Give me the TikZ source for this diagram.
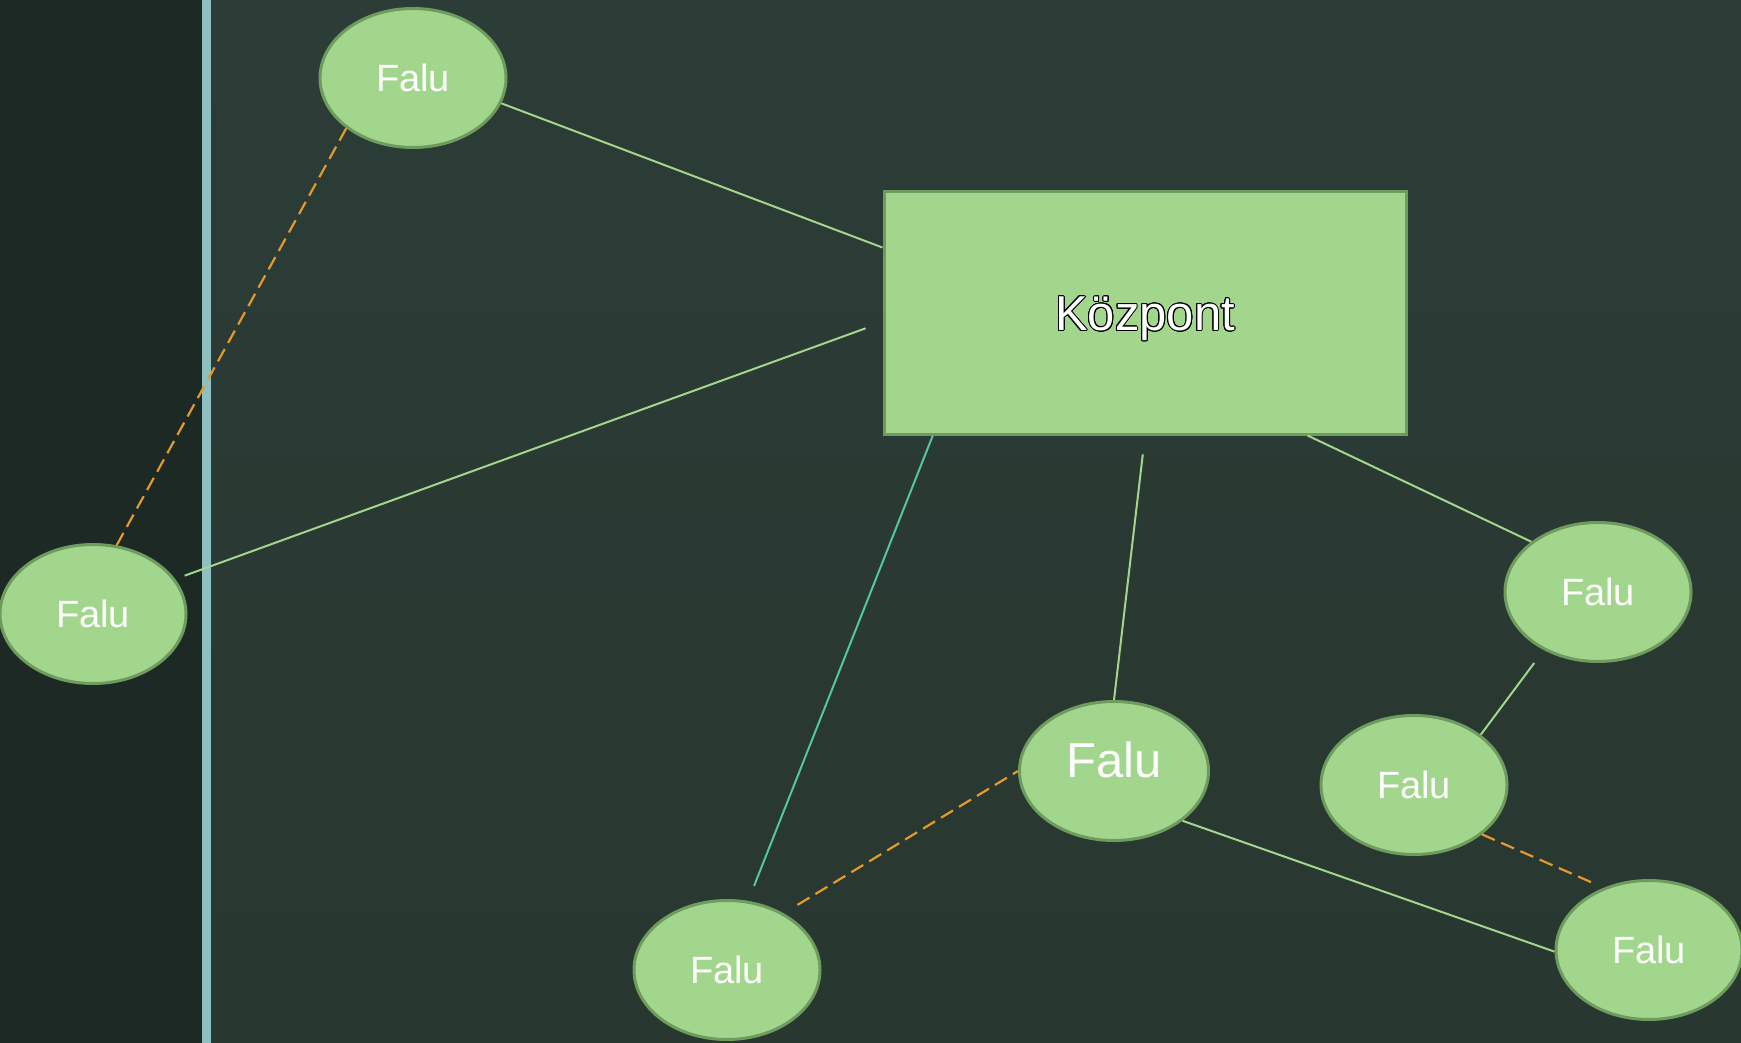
\documentclass[tikz,border=0pt]{standalone}
\usepackage{fontspec}
\setmainfont{Liberation Sans}
\usepackage{contour}
\contourlength{0.5pt}
\usetikzlibrary{shapes.geometric, positioning}
\definecolor{sfondo}{HTML}{2C3C37}
\definecolor{sfondobasso}{HTML}{28372F}
\definecolor{fascia}{HTML}{1D2925}
\definecolor{barra}{HTML}{8EBFC1}
\definecolor{verde}{HTML}{A2D68C}
\definecolor{bordo}{HTML}{6E9C5E}
\definecolor{acqua}{HTML}{52C99A}
\definecolor{arancio}{HTML}{E39A2D}

\begin{document}
\begin{tikzpicture}[x = 0.5pt, y = -0.5pt,
    falu/.style = {ellipse, draw = bordo, line width = 1.5pt, fill = verde,
        minimum width = 93pt, minimum height = 69.5pt, inner sep = 0pt,
        text = white, font = \fontsize{19}{19}\selectfont},
    kozpont/.style = {rectangle, draw = bordo, line width = 1.5pt, fill = verde,
        minimum width = 261pt, minimum height = 121pt, inner sep = 0pt,
        text height = 17.5pt, text depth = 0pt,
        font = \fontsize{24.5}{24.5}\selectfont},
    linea/.style = {draw = verde, line width = 1pt},
    tratteggio/.style = {draw = arancio, line width = 1.1pt, dash pattern = on 7pt off 3.5pt}]
    % Sfondo
    \useasboundingbox (0,0) rectangle (1741,1043);
    \fill[fascia] (0,0) rectangle (202,1043);
    \shade[top color = sfondo, bottom color = sfondobasso] (211,0) rectangle (1741,1043);
    \fill[barra] (202,0) rectangle (211,1043);
    % Nodi
    \node[kozpont] (centro) at (1145,313) {\contour{black}{\textcolor{white}{Központ}}};
    \node[falu] (f1) at (413,78) {Falu};
    \node[falu] (f2) at (93,614) {Falu};
    \node[falu] (f3) at (727,970) {Falu};
    \node[falu, minimum width = 94.5pt, text depth = 11pt, font = \fontsize{24.5}{24.5}\selectfont] (f4) at (1114,771) {Falu};
    \node[falu] (f5) at (1598,592) {Falu};
    \node[falu] (f6) at (1414,785) {Falu};
    \node[falu] (f7) at (1649,950) {Falu};
    % Collegamenti
    \draw[linea] (f1.-16) -- (centro.166);
    \draw[linea, shorten < = 5pt, shorten > = 9pt] (f2.23) -- (centro.182);
    \draw[tratteggio] (f1.217) -- (f2.71);
    \draw[linea, draw = acqua, shorten > = 8pt] (centro.210) -- (f3.73);
    \draw[linea, shorten < = 9.5pt] (centro.south) -- (f4.north);
    \draw[linea] (centro.-37) -- (f5.143);
    \draw[linea, shorten < = 8pt] (f5.227) -- (f6.37);
    \draw[tratteggio, shorten > = 4pt] (f6.-36) -- (f7.126);
    \draw[linea] (f4.-36) -- (f7.181);
    \draw[tratteggio, shorten < = 8pt] (f3.45) -- (f4.180);
\end{tikzpicture}
\end{document}
